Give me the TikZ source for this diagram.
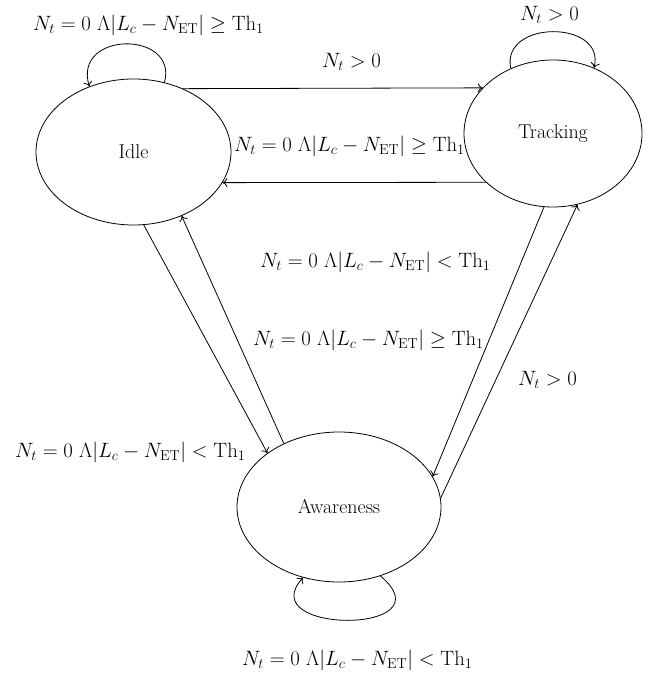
\documentclass[tikz,border=0pt]{standalone}
\usepackage{amsmath}
\usetikzlibrary{arrows.meta,shapes.geometric}
\begin{document}
\begin{tikzpicture}[x=1pt,y=-1pt,
  state/.style={draw,ellipse,inner sep=0pt,line width=0.8pt,font=\fontsize{20}{24}\selectfont},
  lbl/.style={inner sep=0pt,anchor=west,font=\fontsize{20}{24}\selectfont},
  edge/.style={line width=0.8pt,-{To[length=5pt,width=9pt]}}]
\useasboundingbox (0,0) rectangle (649,676);
\node[state,minimum width=195pt,minimum height=146pt] (idle) at (133.5,152) {Idle};
\node[state,minimum width=178pt,minimum height=147pt] (track) at (553,133.5) {Tracking};
\node[state,minimum width=204pt,minimum height=150pt] (aware) at (339,507) {Awareness};
% horizontal edges
\draw[edge] (idle.52.1) -- (track.147.85);
\draw[edge] (track.216.95) -- (idle.-19.3);
% idle <-> awareness
\draw[edge] (idle.-82) -- (aware.143.1);
\draw[edge] (aware.131) -- (idle.-53.8);
% tracking <-> awareness
\draw[edge] (track.-97.6) -- (aware.18.4);
\draw[edge] (aware.5.6) -- (track.-71.9);
% self loops
\draw[edge] (idle.66) .. controls +(14,-52) and +(-17,-56) .. (idle.124.6);
\draw[edge] (track.123.8) .. controls +(-10,-49) and +(12,-48) .. (track.58.6);
\draw[edge] (aware.-59.2) .. controls +(70,59) and +(-52,57) .. (aware.-117.9);
% labels
\node[lbl] (l1) at (322,62) {$N_t > 0$};
\node[lbl] (l2) at (234,146) {$N_t = 0\ \Lambda\lvert L_c - N_{\mathrm{ET}}\rvert \geq \mathrm{Th}_1$};
\node[lbl] (l3) at (33,25) {$N_t = 0\ \Lambda\lvert L_c - N_{\mathrm{ET}}\rvert \geq \mathrm{Th}_1$};
\node[lbl] (l4) at (520,15) {$N_t > 0$};
\node[lbl] (l5) at (260,262) {$N_t = 0\ \Lambda\lvert L_c - N_{\mathrm{ET}}\rvert < \mathrm{Th}_1$};
\node[lbl] (l6) at (253,340) {$N_t = 0\ \Lambda\lvert L_c - N_{\mathrm{ET}}\rvert \geq \mathrm{Th}_1$};
\node[lbl] (l7) at (15,452) {$N_t = 0\ \Lambda\lvert L_c - N_{\mathrm{ET}}\rvert < \mathrm{Th}_1$};
\node[lbl] (l8) at (518,380) {$N_t > 0$};
\node[lbl] (l9) at (242,660) {$N_t = 0\ \Lambda\lvert L_c - N_{\mathrm{ET}}\rvert < \mathrm{Th}_1$};
\end{tikzpicture}
\end{document}
